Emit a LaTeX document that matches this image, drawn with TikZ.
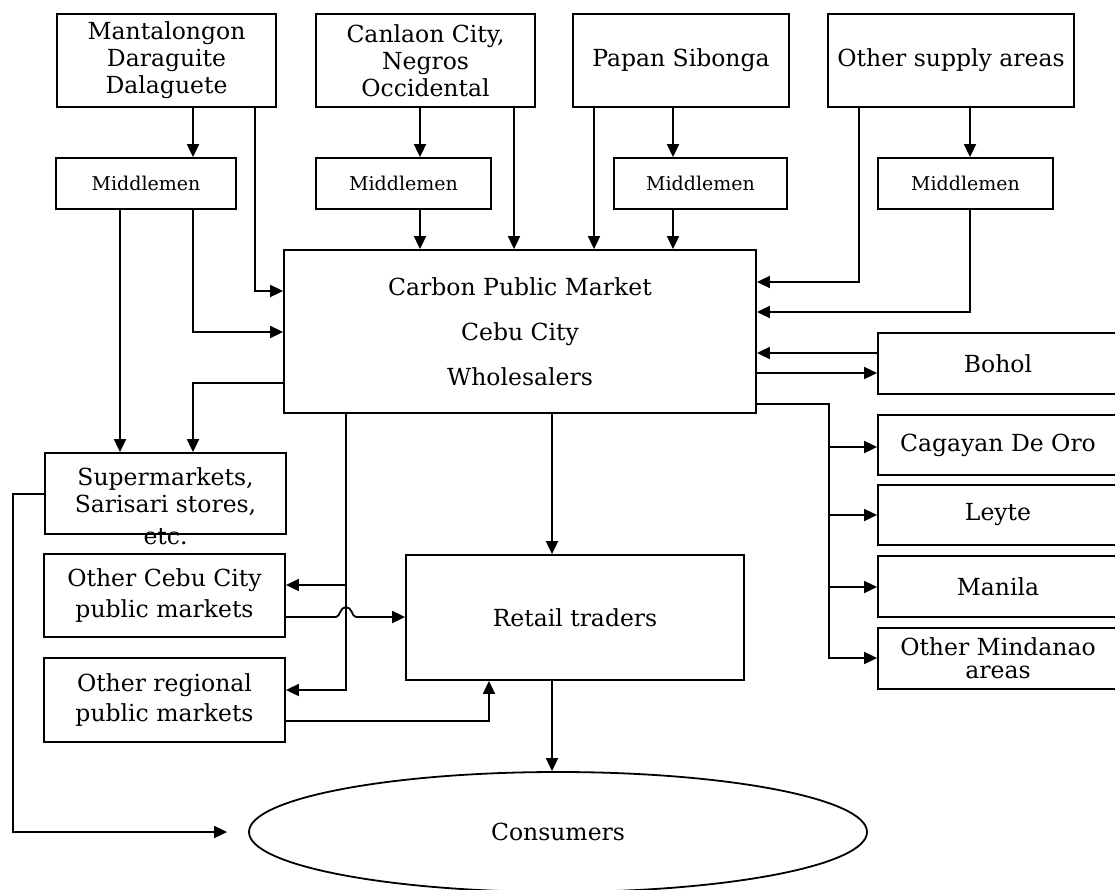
\documentclass[tikz,border=0pt]{standalone}
\usepackage{fontspec}
\setmainfont{DejaVu Serif}
\usetikzlibrary{arrows.meta,shapes.geometric}
\begin{document}
\begin{tikzpicture}[x=1pt,y=-1pt,
  box/.style={draw,line width=1.8pt,inner sep=0pt,align=center,font=\fontsize{23.5}{27}\selectfont},
  midbox/.style={box,font=\fontsize{19}{22}\selectfont},
  txt/.style={inner sep=0pt,align=center,font=\fontsize{23.5}{27}\selectfont},
  ln/.style={line width=1.8pt},
  arr/.style={ln,-{Triangle[length=13pt,width=12pt]}},
]
\useasboundingbox (0,0) rectangle (1115,890);
% supply boxes
\node[box,minimum width=219pt,minimum height=93pt] (mant) at (166.5,60.5) {Mantalongon\\Daraguite\\Dalaguete};
\node[box,minimum width=219pt,minimum height=93pt] (canl) at (425.5,60.5) {Canlaon City,\\Negros\\Occidental};
\node[box,minimum width=216pt,minimum height=93pt] (papan) at (681,60.5) {Papan Sibonga};
\node[box,minimum width=246pt,minimum height=93pt] (osup) at (951,60.5) {Other supply areas};
% middlemen
\node[midbox,minimum width=180pt,minimum height=51pt] (mid1) at (146,183.5) {Middlemen};
\node[midbox,minimum width=175pt,minimum height=51pt] (mid2) at (403.5,183.5) {Middlemen};
\node[midbox,minimum width=173pt,minimum height=51pt] (mid3) at (700.5,183.5) {Middlemen};
\node[midbox,minimum width=175pt,minimum height=51pt] (mid4) at (965.5,183.5) {Middlemen};
% central
\node[box,font=\fontsize{23.5}{45}\selectfont,minimum width=472pt,minimum height=163pt] (central) at (520,331.5) {Carbon Public Market\\Cebu City\\Wholesalers};
% left boxes
\node[box,minimum width=241pt,minimum height=81pt] (super) at (165.5,493.5) {};
\node[txt] (supertext) at (165.5,506) {Supermarkets,\\Sarisari stores,\\[5pt]etc.};
\node[box,font=\fontsize{23.5}{31}\selectfont,minimum width=241pt,minimum height=83pt] (ocebu) at (164.5,595.5) {Other Cebu City\\public markets};
\node[box,font=\fontsize{23.5}{30}\selectfont,minimum width=241pt,minimum height=84pt] (oreg) at (164.5,700) {Other regional\\public markets};
% retail and consumers
\node[box,minimum width=338pt,minimum height=125pt] (retail) at (575,617.5) {Retail traders};
\node[draw,ellipse,line width=1.8pt,inner sep=0pt,font=\fontsize{23.5}{27}\selectfont,minimum width=618pt,minimum height=120pt] (cons) at (558,832) {Consumers};
% right boxes
\node[box,minimum width=240pt,minimum height=61pt] (bohol) at (998,363.5) {Bohol};
\node[box,minimum width=240pt,minimum height=60pt] (cag) at (998,445) {Cagayan De Oro};
\node[box,minimum width=240pt,minimum height=60pt] (leyte) at (998,515) {Leyte};
\node[box,minimum width=240pt,minimum height=61pt] (manila) at (998,586.5) {Manila};
\node[box,font=\fontsize{23.5}{23}\selectfont,minimum width=240pt,minimum height=61pt] (omind) at (998,658.5) {Other Mindanao\\areas};
% reference coordinates
\coordinate (x13) at (13,0);
\coordinate (x120) at (120,0);
\coordinate (x193) at (193,0);
\coordinate (x255) at (255,0);
\coordinate (x346) at (346,0);
\coordinate (x420) at (420,0);
\coordinate (x489) at (489,0);
\coordinate (x514) at (514,0);
\coordinate (x552) at (552,0);
\coordinate (x594) at (594,0);
\coordinate (x673) at (673,0);
\coordinate (x829) at (829,0);
\coordinate (x859) at (859,0);
\coordinate (x970) at (970,0);
\coordinate (y282) at (0,282);
\coordinate (y291) at (0,291);
\coordinate (y312) at (0,312);
\coordinate (y332) at (0,332);
\coordinate (y353) at (0,353);
\coordinate (y373) at (0,373);
\coordinate (y383) at (0,383);
\coordinate (y404) at (0,404);
\coordinate (y447) at (0,447);
\coordinate (y494) at (0,494);
\coordinate (y515) at (0,515);
\coordinate (y585) at (0,585);
\coordinate (y587) at (0,587);
\coordinate (y617) at (0,617);
\coordinate (y658) at (0,658);
\coordinate (y690) at (0,690);
\coordinate (y721) at (0,721);
\coordinate (y832) at (0,832);
% supply connectors
\draw[arr] (mant.south -| x193) -- (mid1.north -| x193);
\draw[arr] (mant.south -| x255) |- (central.west |- y291);
\draw[arr] (mid1.south -| x193) |- (central.west |- y332);
\draw[arr] (mid1.south -| x120) -- (super.north -| x120);
\draw[arr] (central.west |- y383) -| (super.north -| x193);
\draw[arr] (canl.south -| x420) -- (mid2.north -| x420);
\draw[arr] (mid2.south -| x420) -- (central.north -| x420);
\draw[arr] (canl.south -| x514) -- (central.north -| x514);
\draw[arr] (papan.south -| x594) -- (central.north -| x594);
\draw[arr] (papan.south -| x673) -- (mid3.north -| x673);
\draw[arr] (mid3.south -| x673) -- (central.north -| x673);
\draw[arr] (osup.south -| x859) |- (central.east |- y282);
\draw[arr] (osup.south -| x970) -- (mid4.north -| x970);
\draw[arr] (mid4.south -| x970) |- (central.east |- y312);
% Bohol
\draw[arr] (bohol.west |- y353) -- (central.east |- y353);
\draw[arr] (central.east |- y373) -- (bohol.west |- y373);
% other destinations
\draw[arr] (central.east |- y404) -| (x829 |- y658) -- (omind.west |- y658);
\draw[arr] (x829 |- y447) -- (cag.west |- y447);
\draw[arr] (x829 |- y515) -- (leyte.west |- y515);
\draw[arr] (x829 |- y587) -- (manila.west |- y587);
% central to other markets
\draw[arr] (central.south -| x346) |- (oreg.east |- y690);
\draw[arr] (x346 |- y585) -- (ocebu.east |- y585);
\draw[arr] (central.south -| x552) -- (retail.north -| x552);
\draw[arr] (retail.south -| x552) -- (cons.north -| x552);
\draw[arr] (ocebu.east |- y617) -- (336,617) .. controls (340,617) and (340,607) .. (346,607) .. controls (352,607) and (352,617) .. (356,617) -- (retail.west |- y617);
\draw[arr] (oreg.east |- y721) -| (retail.south -| x489);
\draw[arr,shorten >=21pt] (super.west |- y494) -| (x13 |- y832) -- (cons.west);
\end{tikzpicture}
\end{document}
